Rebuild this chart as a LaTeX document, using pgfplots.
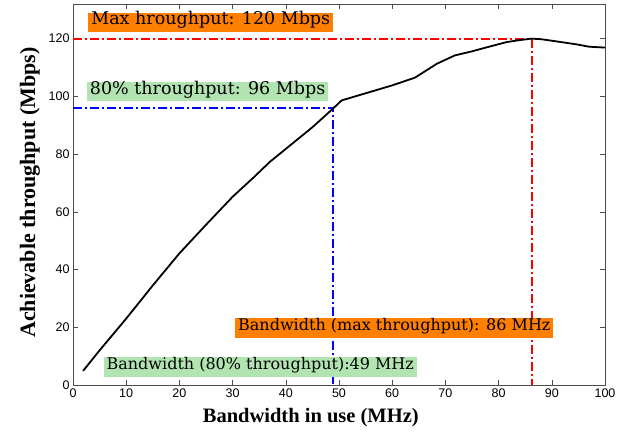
\documentclass[border=0pt]{standalone}
\usepackage{pgfplots}
\pgfplotsset{compat=1.18}
\usepackage{fontspec}
\setmainfont{Liberation Serif}
\newfontfamily\ticksans{Liberation Sans}
\newfontfamily\boxserif{DejaVu Serif}

\definecolor{boxorange}{RGB}{255,128,0}
\definecolor{boxgreen}{RGB}{178,228,178}

\tikzset{
  dashdot/.style={dash pattern=on 9pt off 3pt on 2pt off 3pt},
  annot/.style={inner xsep=3pt, inner ysep=4.5pt, text height=0.74em, text depth=0.24em,
    font=\fontsize{17.5}{19}\boxserif},
  annotsmall/.style={annot, inner ysep=5pt, font=\fontsize{16}{18}\boxserif},
}

\begin{document}
\begin{tikzpicture}
\useasboundingbox (-73pt,-50pt) rectangle (562pt,385pt);
\begin{axis}[
  scale only axis,
  width=532pt, height=381pt,
  xmin=0, xmax=100, ymin=0, ymax=132,
  xtick={0,10,...,100}, ytick={0,20,...,120},
  tick align=inside,
  major tick length=5pt,
  tick style={black!70, line width=0.6pt},
  axis line style={black!70, line width=0.8pt},
  tick label style={font=\fontsize{12.5}{14}\ticksans, /pgf/number format/assume math mode=true},
  xlabel={\textbf{Bandwidth in use (MHz)}},
  ylabel={\textbf{Achievable throughput (Mbps)}},
  xlabel style={at={(axis description cs:0.447,-0.085)}, anchor=center, font=\fontsize{20.5}{22}\selectfont},
  ylabel style={at={(axis description cs:-0.081,0.505)}, anchor=center, font=\fontsize{22}{24}\selectfont},
]
% reference lines
\addplot[red, dashdot, line width=2pt] coordinates {(0,120) (86.2,120) (86.2,0)};
\addplot[blue, dashdot, line width=1.6pt] coordinates {(0,96) (48.9,96) (48.9,0)};
% measured throughput
\addplot[black, line width=1.8pt] coordinates {
  (1.9,4.9) (5,12) (10,23) (15,34.5) (20,45.6) (25,55.5) (30,65.2)
  (34,72.0) (37,77.3) (41,83.3) (45,89.3) (48.9,95.8) (50.5,98.6) (55.8,101.5)
  (60,103.8) (64.3,106.5) (68.4,111.3) (71.8,114.2) (75,115.6) (77.8,117)
  (81.5,118.8) (84,119.5) (86.2,120) (88,119.8) (90.3,119.2) (94.7,118)
  (97,117.2) (100,116.9)
};
% annotations
\node[annot, fill=boxorange] at (axis cs:25.9,125.6) {Max hroughput: 120 Mbps};
\node[annot, fill=boxgreen] at (axis cs:25.3,101.6) {80\% throughput: 96 Mbps};
\node[annotsmall, fill=boxorange] at (axis cs:60.4,19.7) {Bandwidth (max throughput): 86 MHz};
\node[annotsmall, fill=boxgreen] at (axis cs:35.2,6.2) {Bandwidth (80\% throughput):49 MHz};
\end{axis}
\end{tikzpicture}
\end{document}
